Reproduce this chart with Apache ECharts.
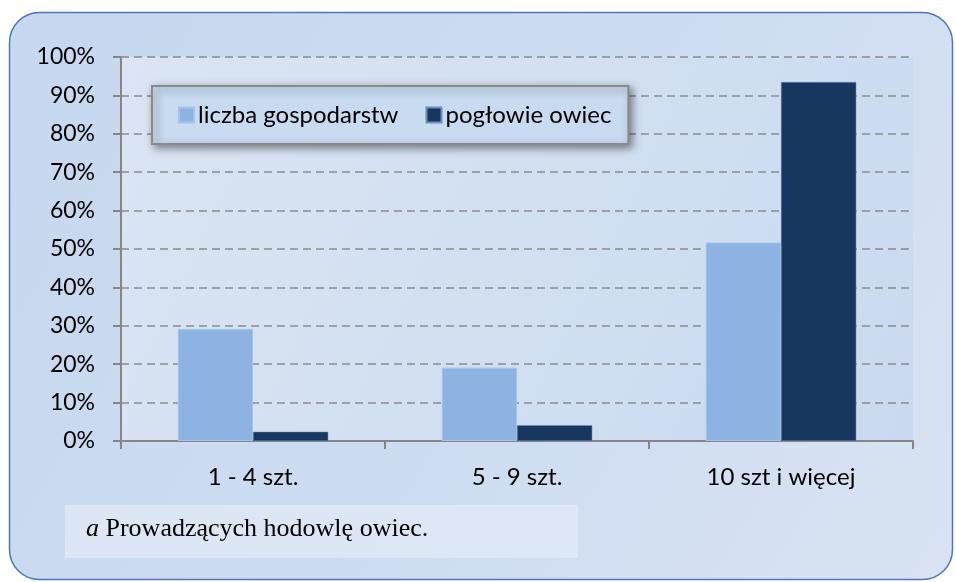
<!DOCTYPE html>
<html><head><meta charset="utf-8">
<script src="https://cdn.jsdelivr.net/npm/echarts@6/dist/echarts.min.js"></script>
<style>html,body{margin:0;padding:0;background:#fff}#c{width:956px;height:582px}</style>
</head><body><div id="c"></div>
<script>
const categories = ['1 - 4 szt.', '5 - 9 szt.', '10 szt i więcej'];
const seriesNames = ['liczba gospodarstw', 'pogłowie owiec'];
const gospodarstwa = [29.2, 19.1, 51.7];
const owce = [2.4, 4.1, 93.5];
const caption = 'Prowadzących hodowlę owiec.';

const chart = echarts.init(document.getElementById('c'), null, {renderer: 'canvas'});
const font = 'Lato';
chart.setOption({
  animation: false,
  graphic: [
    {type: 'rect', z: -10, shape: {x: 9.5, y: 12.5, width: 943, height: 567, r: 30},
     style: {fill: new echarts.graphic.LinearGradient(0, 0, 1, 1, [
       {offset: 0, color: '#c6d7ef'}, {offset: 0.5, color: '#cddcf1'}, {offset: 1, color: '#d9e3f3'}]),
       stroke: '#4f78b3', lineWidth: 1.5}},
    {type: 'rect', z: -9, shape: {x: 121, y: 57, width: 792, height: 384},
     style: {fill: new echarts.graphic.LinearGradient(0, 0, 1, 1, [
       {offset: 0, color: '#dbe5f3'}, {offset: 1, color: '#c9daf0'}])}},
    {type: 'rect', z: -9, shape: {x: 65, y: 505, width: 513, height: 53},
     style: {fill: 'rgba(225,233,245,0.75)'}},
    {type: 'text', left: 86, top: 516, style: {
      text: '{i|a} ' + caption,
      rich: {i: {fontFamily: 'Liberation Serif', fontStyle: 'italic', fontSize: 26, fill: '#000'}},
      fontFamily: 'Liberation Serif', fontSize: 26, fill: '#000'}}
  ],
  legend: {
    left: 152, top: 86, orient: 'horizontal',
    data: seriesNames,
    backgroundColor: '#c9dbf1', borderColor: '#8a8a8a', borderWidth: 2,
    shadowColor: 'rgba(0,0,0,0.45)', shadowBlur: 8, shadowOffsetX: 3, shadowOffsetY: 3,
    padding: [17, 17, 17, 26], itemGap: 27, itemWidth: 15, itemHeight: 15,
    icon: 'rect',
    textStyle: {fontFamily: font, fontSize: 24, color: '#000', padding: [0, 0, 0, -1]}
  },
  grid: {left: 121, right: 43, top: 57, bottom: 141},
  xAxis: {
    type: 'category', data: categories,
    axisLine: {lineStyle: {color: '#868686', width: 2}},
    axisTick: {show: true, length: 8, lineStyle: {color: '#868686', width: 2}},
    axisLabel: {fontFamily: font, fontSize: 24, color: '#000', margin: 24}
  },
  yAxis: {
    type: 'value', min: 0, max: 100, interval: 10,
    axisLine: {show: true, lineStyle: {color: '#868686', width: 2}},
    axisTick: {show: true, length: 8, lineStyle: {color: '#868686', width: 2}},
    axisLabel: {formatter: '{value}%', fontFamily: font, fontSize: 23, color: '#000', margin: 26},
    splitLine: {show: true, lineStyle: {color: '#8c8c8c', width: 1.5, type: [8, 5]}}
  },
  series: [
    {name: seriesNames[0], type: 'bar', data: gospodarstwa, barGap: '0%', barCategoryGap: '43%',
     itemStyle: {color: '#8db3e2', borderColor: '#a6c4ea', borderWidth: 1}},
    {name: seriesNames[1], type: 'bar', data: owce,
     itemStyle: {color: '#17375e', borderColor: '#6f8fb8', borderWidth: 0.5}}
  ]
});
</script></body></html>
